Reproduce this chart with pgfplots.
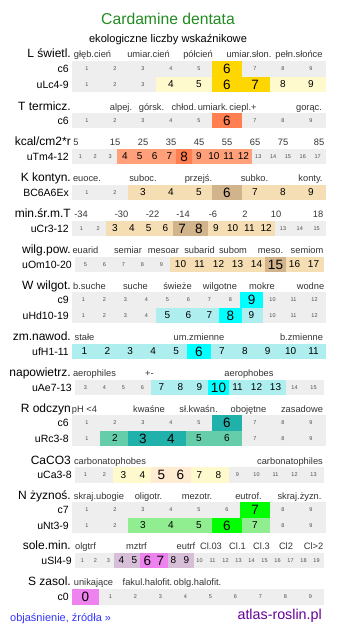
\documentclass[border=0pt]{standalone}
\usepackage{pgfplots}
\pgfplotsset{compat=1.18}
\usepackage{fontspec}
\setmainfont{Liberation Sans}
\definecolor{cgray}{HTML}{EEEEEE}
\definecolor{Lli}{HTML}{FFFACD}\definecolor{Ldk}{HTML}{FFD700}
\definecolor{Tli}{HTML}{FFA07A}\definecolor{Tdk}{HTML}{FF7F50}
\definecolor{Kli}{HTML}{F5DEB3}\definecolor{Kdk}{HTML}{D2B48C}
\definecolor{Wli}{HTML}{AFEEEE}\definecolor{Wdk}{HTML}{00FFFF}
\definecolor{Rli}{HTML}{66CDAA}\definecolor{Rdk}{HTML}{20B2AA}
\definecolor{Cali}{HTML}{FFFACD}\definecolor{Cadk}{HTML}{FFEBD2}
\definecolor{Nli}{HTML}{90EE90}\definecolor{Ndk}{HTML}{00FF00}
\definecolor{Sli}{HTML}{D8BFD8}\definecolor{Sdk}{HTML}{EE82EE}
\definecolor{titlegreen}{HTML}{228B22}
\definecolor{linkblue}{HTML}{3333FF}
\definecolor{atlaspurple}{HTML}{660099}
\definecolor{cattext}{HTML}{333333}
\newcommand\cellfont[1]{\ifcase#1\relax\fontsize{5.5}{6}\selectfont\color{black!70}\or\fontsize{10}{11}\selectfont\or\fontsize{13.5}{14}\selectfont\fi}
\pgfplotsset{
  cellbase/.style 2 args={only marks, mark=square*, mark size=7.3pt,
    mark options={xscale={(#1+0.3)/14.6}, draw=#2, fill=#2, line width=0pt}},
  celllab/.style={draw=none, mark=none,
    visualization depends on={value \thisrow{i} \as \idx},
    visualization depends on={value \thisrow{c} \as \lvl},
    nodes near coords={\idx},
    every node near coord/.append style={anchor=center, inner sep=0pt, font=\cellfont{\lvl}}},
}
% #1 x0, #2 cell width, #3 first index, #4 y centre, #5 light colour, #6 dark colour, #7 data
\newcommand\cellrow[7]{%
\addplot[cellbase={#2}{cgray}]
  table[row sep=\\, x expr={#1+(\thisrow{i}-#3+0.5)*#2}, y expr={#4}] {#7};
\addplot[cellbase={#2}{#5}, restrict expr to domain={\thisrow{c}}{1:1}, unbounded coords=discard]
  table[row sep=\\, x expr={#1+(\thisrow{i}-#3+0.5)*#2}, y expr={#4}] {#7};
\addplot[cellbase={#2}{#6}, restrict expr to domain={\thisrow{c}}{2:2}, unbounded coords=discard]
  table[row sep=\\, x expr={#1+(\thisrow{i}-#3+0.5)*#2}, y expr={#4}] {#7};
\addplot[celllab]
  table[row sep=\\, x expr={#1+(\thisrow{i}-#3+0.5)*#2}, y expr={#4}] {#7};}
\newcommand\head[2]{\node[anchor=base east, inner sep=0pt, font=\fontsize{12}{12}\selectfont] at (axis cs:71,#1) {#2};}
\newcommand\rowlab[3]{\node[anchor=east, inner sep=0pt, font=\fontsize{10.5}{11}\selectfont] at (axis cs:#1,#2) {#3};}
\newcommand\cat[3]{\node[anchor=base, inner sep=0pt, text=cattext, font=\fontsize{9.3}{10}\selectfont] at (axis cs:#1,#2) {#3};}
\begin{document}
\begin{tikzpicture}
\begin{axis}[width=337pt, height=634pt, scale only axis, xmin=0, xmax=337, ymin=0, ymax=634,
  y dir=reverse, hide axis, clip=false]
\path (axis cs:0,0) rectangle (axis cs:337,634);
% title
\node[anchor=base, inner sep=0pt, text=titlegreen, font=\fontsize{15.7}{16}\selectfont] at (axis cs:168,25) {Cardamine dentata};
\node[anchor=base, inner sep=0pt, font=\fontsize{11.1}{12}\selectfont] at (axis cs:168,42) {ekologiczne liczby wskaźnikowe};
% L
\head{58}{L świetl.}
\cat{92.5}{58}{głęb.cień}\cat{148.5}{58}{umiar.cień}\cat{198}{58}{półcień}\cat{249}{58}{umiar.słon.}\cat{299}{58}{pełn.słońce}
\rowlab{69}{69}{c6}
\cellrow{73}{28}{1}{69}{Lli}{Ldk}{i c\\1 0\\2 0\\3 0\\4 0\\5 0\\6 2\\7 0\\8 0\\9 0\\}
\rowlab{69}{84.5}{uLc4-9}
\cellrow{73}{28}{1}{84.5}{Lli}{Ldk}{i c\\1 0\\2 0\\3 0\\4 1\\5 1\\6 2\\7 2\\8 1\\9 1\\}
% T
\head{110}{T termicz.}
\cat{121}{110}{alpej.}\cat{151.5}{110}{górsk.}\cat{184}{110}{chłod.}\cat{213}{110}{umiark.}\cat{243}{110}{ciepl.+}\cat{309}{110}{gorąc.}
\rowlab{69}{120.5}{c6}
\cellrow{73}{28}{1}{120.5}{Tli}{Tdk}{i c\\1 0\\2 0\\3 0\\4 0\\5 0\\6 2\\7 0\\8 0\\9 0\\}
% kcal
\head{145}{kcal/cm2*r}
\cat{76}{145}{5}\cat{115}{145}{15}\cat{143}{145}{25}\cat{171}{145}{35}\cat{199}{145}{45}\cat{227}{145}{55}\cat{255}{145}{65}\cat{283}{145}{75}\cat{319}{145}{85}
\rowlab{69}{156.5}{uTm4-12}
\cellrow{73}{14.824}{1}{156.5}{Tli}{Tdk}{i c\\1 0\\2 0\\3 0\\4 1\\5 1\\6 1\\7 1\\8 2\\9 1\\10 1\\11 1\\12 1\\13 0\\14 0\\15 0\\16 0\\17 0\\}
% K
\head{181}{K kontyn.}
\cat{87}{181}{euoce.}\cat{143}{181}{suboc.}\cat{198.5}{181}{przejś.}\cat{254.5}{181}{subko.}\cat{310.5}{181}{konty.}
\rowlab{69}{192.5}{BC6A6Ex}
\cellrow{73}{28}{1}{192.5}{Kli}{Kdk}{i c\\1 0\\2 0\\3 1\\4 1\\5 1\\6 2\\7 1\\8 1\\9 1\\}
% min sr m T
\head{217}{min.śr.m.T}
\cat{81}{217}{-34}\cat{121.5}{217}{-30}\cat{152.5}{217}{-22}\cat{183}{217}{-14}\cat{213}{217}{-6}\cat{245}{217}{2}\cat{276}{217}{10}\cat{318}{217}{18}
\rowlab{69}{228.5}{uCr3-12}
\cellrow{73}{16.8}{1}{228.5}{Kli}{Kdk}{i c\\1 0\\2 0\\3 1\\4 1\\5 1\\6 1\\7 2\\8 2\\9 1\\10 1\\11 1\\12 1\\13 0\\14 0\\15 0\\}
% wilg pow
\head{253}{wilg.pow.}
\cat{85.5}{253}{euarid}\cat{128}{253}{semiar}\cat{163.5}{253}{mesoar}\cat{199.5}{253}{subarid}\cat{233}{253}{subom}\cat{270.5}{253}{meso.}\cat{307}{253}{semiom}
\rowlab{72}{264.5}{uOm10-20}
\cellrow{76}{19}{5}{264.5}{Kli}{Kdk}{i c\\5 0\\6 0\\7 0\\8 0\\9 0\\10 1\\11 1\\12 1\\13 1\\14 1\\15 2\\16 1\\17 1\\}
% W
\head{289}{W wilgot.}
\cat{89.5}{289}{b.suche}\cat{135.5}{289}{suche}\cat{177.5}{289}{świeże}\cat{220}{289}{wilgotne}\cat{262}{289}{mokre}\cat{310.5}{289}{wodne}
\rowlab{69}{300}{c9}
\cellrow{73}{21}{1}{300}{Wli}{Wdk}{i c\\1 0\\2 0\\3 0\\4 0\\5 0\\6 0\\7 0\\8 0\\9 2\\10 0\\11 0\\12 0\\}
\rowlab{69}{315.5}{uHd10-19}
\cellrow{73}{21}{1}{315.5}{Wli}{Wdk}{i c\\1 0\\2 0\\3 0\\4 0\\5 1\\6 1\\7 1\\8 2\\9 1\\10 0\\11 0\\12 0\\}
% zm nawod
\head{340}{zm.nawod.}
\cat{84.5}{340}{stałe}\cat{199}{340}{um.zmienne}\cat{301.5}{340}{b.zmienne}
\rowlab{69}{351.5}{ufH1-11}
\cellrow{73}{22.909}{1}{351.5}{Wli}{Wdk}{i c\\1 1\\2 1\\3 1\\4 1\\5 1\\6 2\\7 1\\8 1\\9 1\\10 1\\11 1\\}
% napowietrz
\head{376}{napowietrz.}
\cat{94.5}{376}{aerophiles}\cat{149.5}{376}{+-}\cat{249}{376}{aerophobes}
\rowlab{72}{387.5}{uAe7-13}
\cellrow{76}{19}{3}{387.5}{Wli}{Wdk}{i c\\3 0\\4 0\\5 0\\6 0\\7 1\\8 1\\9 1\\10 2\\11 1\\12 1\\13 1\\14 0\\15 0\\}
% R
\head{412}{R odczyn}
\cat{84.5}{412}{pH <4}\cat{149}{412}{kwaśne}\cat{198.5}{412}{sł.kwaśn.}\cat{248.5}{412}{obojętne}\cat{302}{412}{zasadowe}
\rowlab{69}{423}{c6}
\cellrow{73}{28}{1}{423}{Rli}{Rdk}{i c\\1 0\\2 0\\3 0\\4 0\\5 0\\6 2\\7 0\\8 0\\9 0\\}
\rowlab{69}{438.5}{uRc3-8}
\cellrow{73}{28}{1}{438.5}{Rli}{Rdk}{i c\\1 0\\2 1\\3 2\\4 2\\5 1\\6 1\\7 0\\8 0\\9 0\\}
% CaCO3
\head{464}{CaCO3}
\cat{110}{464}{carbonatophobes}\cat{290}{464}{carbonatophiles}
\rowlab{72}{475}{uCa3-8}
\cellrow{76}{19}{1}{475}{Cali}{Cadk}{i c\\1 0\\2 0\\3 1\\4 1\\5 2\\6 2\\7 1\\8 1\\9 0\\10 0\\11 0\\12 0\\13 0\\}
% N
\head{499}{N żyznoś.}
\cat{99}{499}{skraj.ubogie}\cat{148.5}{499}{oligotr.}\cat{197}{499}{mezotr.}\cat{248.5}{499}{eutrof.}\cat{299.5}{499}{skraj.żyzn.}
\rowlab{69}{510}{c7}
\cellrow{73}{28}{1}{510}{Nli}{Ndk}{i c\\1 0\\2 0\\3 0\\4 0\\5 0\\6 0\\7 2\\8 0\\9 0\\}
\rowlab{69}{525.5}{uNt3-9}
\cellrow{73}{28}{1}{525.5}{Nli}{Ndk}{i c\\1 0\\2 0\\3 1\\4 1\\5 1\\6 2\\7 1\\8 0\\9 0\\}
% sole min
\head{549}{sole.min.}
\cat{85.5}{549}{olgtrf}\cat{136.5}{549}{mztrf}\cat{186}{549}{eutrf}\cat{211}{549}{Cl.03}\cat{237.5}{549}{Cl.1}\cat{261.5}{549}{Cl.3}\cat{286}{549}{Cl2}\cat{313.5}{549}{Cl>2}
\rowlab{72}{560.5}{uSl4-9}
\cellrow{76}{13}{1}{560.5}{Sli}{Sdk}{i c\\1 0\\2 0\\3 0\\4 1\\5 1\\6 2\\7 2\\8 1\\9 1\\10 0\\11 0\\12 0\\13 0\\14 0\\15 0\\16 0\\17 0\\18 0\\19 0\\}
% S
\head{585}{S zasol.}
\cat{93.5}{585}{unikające}\cat{147.5}{585}{fakul.halofit.}\cat{197.5}{585}{oblg.halofit.}
\rowlab{69}{597}{c0}
\cellrow{73}{25}{0}{597}{Sli}{Sdk}{i c\\0 2\\1 0\\2 0\\3 0\\4 0\\5 0\\6 0\\7 0\\8 0\\9 0\\}
% footer
\node[anchor=base west, inner sep=0pt, text=linkblue, font=\fontsize{11}{12}\selectfont] at (axis cs:10,621) {objaśnienie, źródła »};
\node[anchor=base east, inner sep=0pt, text=atlaspurple, font=\fontsize{14.3}{15}\selectfont] at (axis cs:322,619.5) {atlas-roslin.pl};
\end{axis}
\end{tikzpicture}
\end{document}
